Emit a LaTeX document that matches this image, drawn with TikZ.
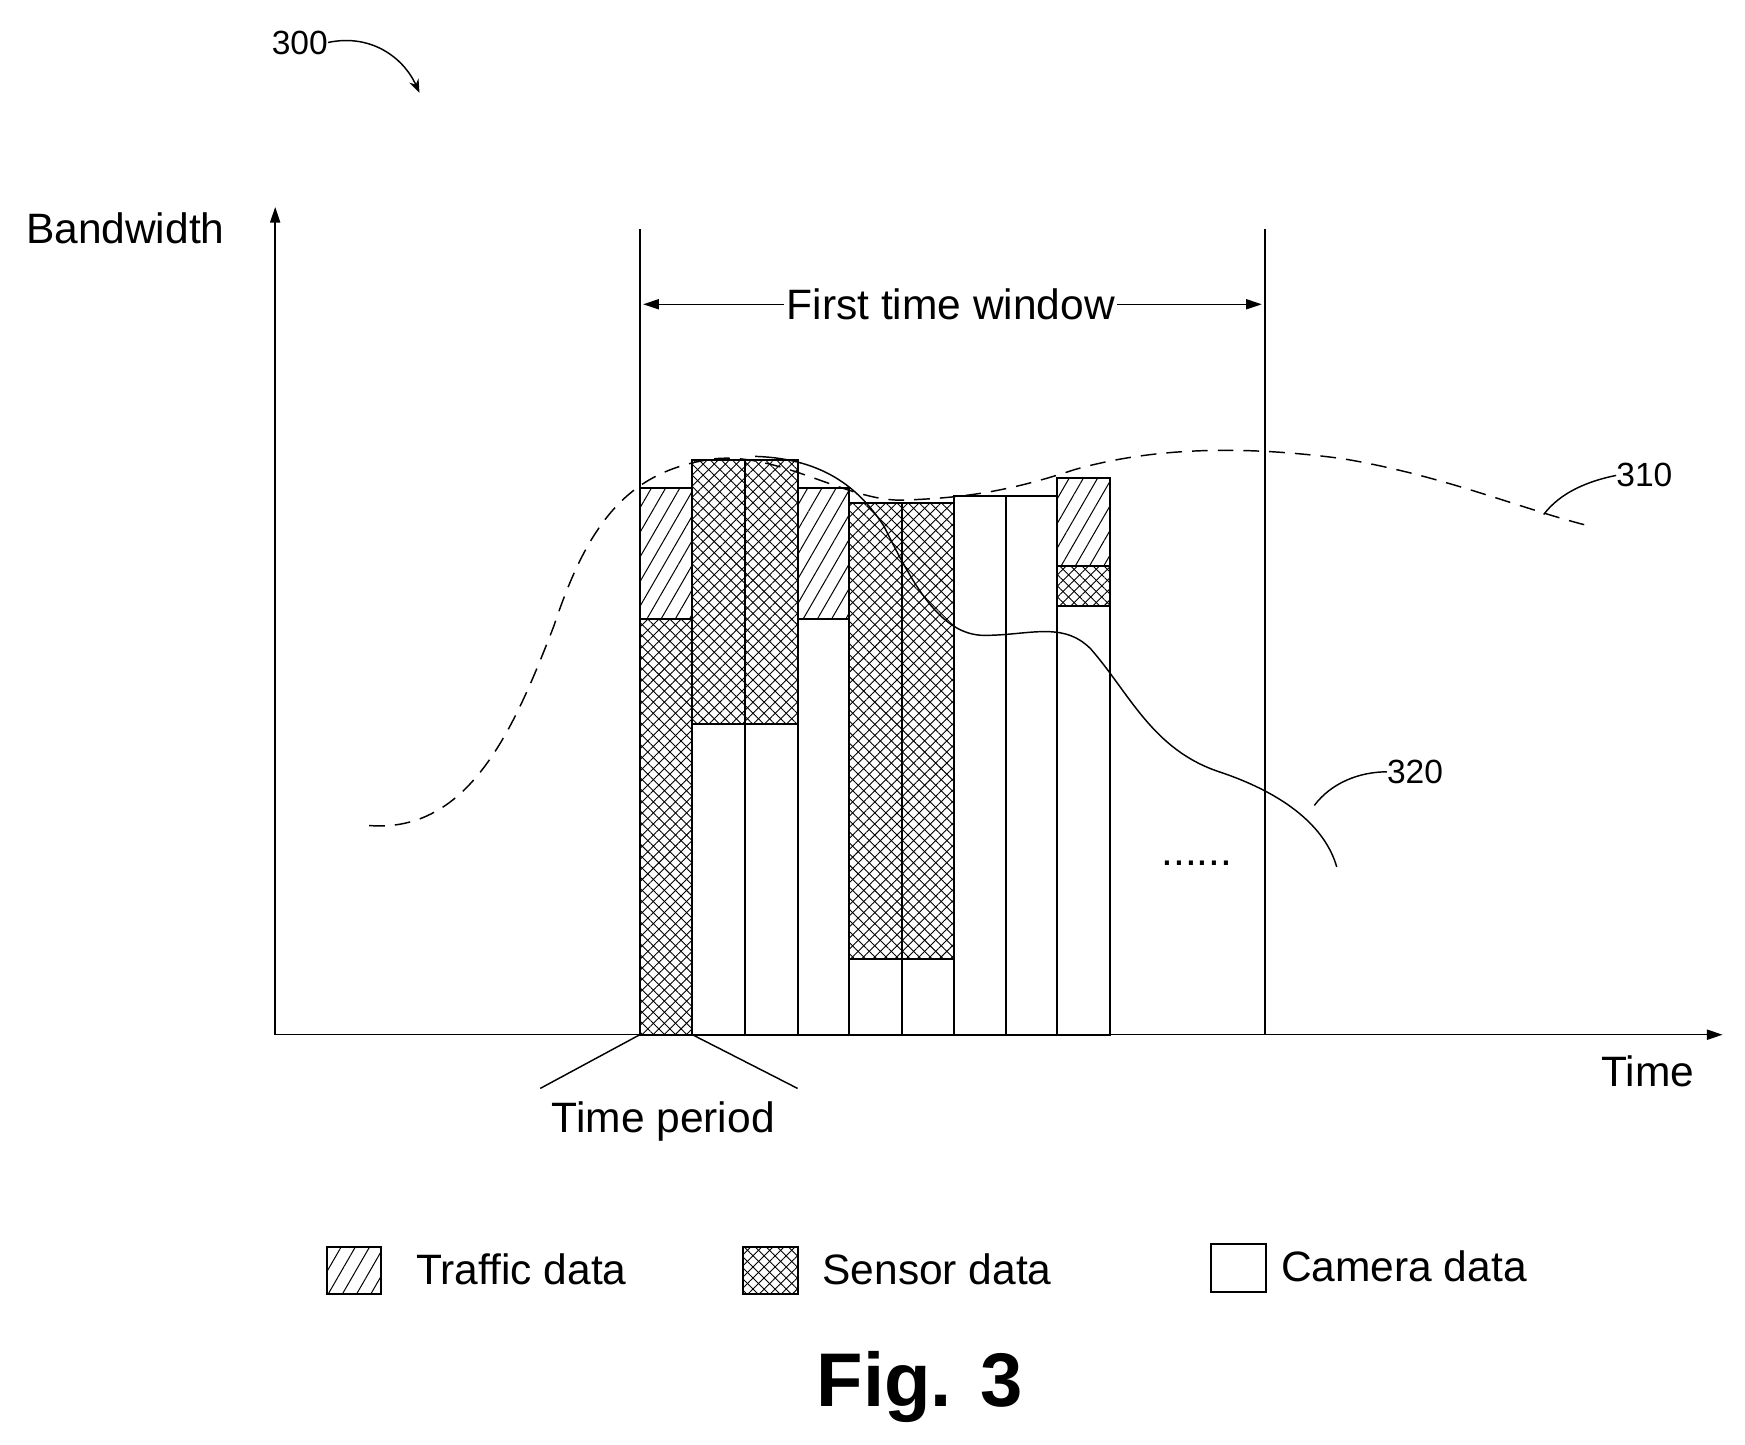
\documentclass[tikz,border=0pt]{standalone}
\usepackage{fontspec}
\setmainfont{Liberation Sans}
\usetikzlibrary{patterns.meta,arrows.meta}
\begin{document}
\begin{tikzpicture}[x=1pt,y=-1pt,
  lbl/.style={font=\fontsize{38}{42}\selectfont,inner sep=0pt},
  num/.style={font=\fontsize{30}{34}\selectfont,inner sep=0pt},
  traf/.style={draw,line width=1.8pt,pattern={Lines[angle=60,distance=11pt,line width=0.9pt]}},
  sens/.style={draw,line width=1.8pt,postaction={pattern={Lines[angle=45,distance=7pt,line width=0.8pt]}},
               pattern={Lines[angle=-45,distance=7pt,line width=0.8pt]}},
  cam/.style={draw,line width=1.8pt,fill=white},
  ln/.style={line width=1.3pt}]
\useasboundingbox (0,0) rectangle (1560,1291);
% bars
\draw[sens] (572,553) rectangle (619,925);
\draw[traf] (572,436) rectangle (619,553);
\foreach \a/\b in {619/666,666/713}{
  \draw[cam] (\a,647) rectangle (\b,925);
  \draw[sens] (\a,411) rectangle (\b,647);}
\draw[cam] (713,553) rectangle (759,925);
\draw[traf] (713,436) rectangle (759,553);
\foreach \a/\b in {759/806,806/853}{
  \draw[cam] (\a,857) rectangle (\b,925);
  \draw[sens] (\a,450) rectangle (\b,857);}
\draw[cam] (853,443) rectangle (899,925);
\draw[cam] (899,443) rectangle (945,925);
\draw[cam] (945,542) rectangle (992,925);
\draw[sens] (945,506) rectangle (992,542);
\draw[traf] (945,427) rectangle (992,506);
% axes
\coordinate (o) at (246,925);
\draw[ln,-{Triangle[length=14pt,width=9pt]}] (o) -- (246,185);
\draw[ln,-{Triangle[length=14pt,width=9pt]}] (o) -- (1540,925);
\node[lbl] (bw) at (112,204) {Bandwidth};
\node[lbl] (time) at (1473,958) {Time};
% window
\draw[ln] (572,205) -- (572,925);
\draw[ln] (1131,205) -- (1131,925);
\node[lbl,fill=white,inner xsep=2pt] (ftw) at (850,272) {First time window};
\draw[ln,-{Triangle[length=14pt,width=9pt]}] (ftw.west) -- (575,272);
\draw[ln,-{Triangle[length=14pt,width=9pt]}] (ftw.east) -- (1128,272);
% curves
\draw[ln,dash pattern=on 14pt off 9pt] (330,738) .. controls (420,745) and (460,650) .. (495,560)
  .. controls (525,470) and (560,420) .. (640,410) .. controls (700,405) and (760,450) .. (810,447)
  .. controls (860,445) and (900,440) .. (960,420) .. controls (1030,400) and (1110,398) .. (1200,410)
  .. controls (1290,425) and (1360,455) .. (1420,470);
\draw[ln] (675,408) .. controls (740,410) and (770,440) .. (790,470)
  .. controls (815,520) and (840,568) .. (880,568) .. controls (920,568) and (950,555) .. (975,580)
  .. controls (1010,620) and (1030,670) .. (1090,690) .. controls (1150,710) and (1185,740) .. (1195,775);
\node[num] (n310) at (1470,425) {310};
\draw[ln] (1380,460) .. controls (1395,440) and (1420,430) .. (n310.west);
\node[num] (n320) at (1265,690) {320};
\draw[ln] (1175,720) .. controls (1190,700) and (1215,690) .. (n320.west);
\node[lbl] (dots) at (1070,772) {......};
% time period
\node[lbl] (tp) at (593,1003) {Time period};
\draw[ln] (572,925) -- (483,973);
\draw[ln] (619,925) -- (713,973);
% 300
\node[num] (n300) at (268,38) {300};
\draw[ln,-{Stealth[length=12pt]}] (n300.east) .. controls (330,30) and (360,50) .. (375,83);
% legend
\draw[traf] (292,1115) rectangle (341,1157);
\node[lbl,anchor=west] (lt) at (372,1135) {Traffic data};
\draw[sens] (664,1115) rectangle (713,1157);
\node[lbl,anchor=west] (ls) at (735,1135) {Sensor data};
\draw[cam] (1083,1112) rectangle (1132,1155);
\node[lbl,anchor=west] (lc) at (1145,1132) {Camera data};
\node[font=\bfseries\fontsize{68}{78}\selectfont] (fig) at (822,1240) {Fig. 3};
\end{tikzpicture}
\end{document}
